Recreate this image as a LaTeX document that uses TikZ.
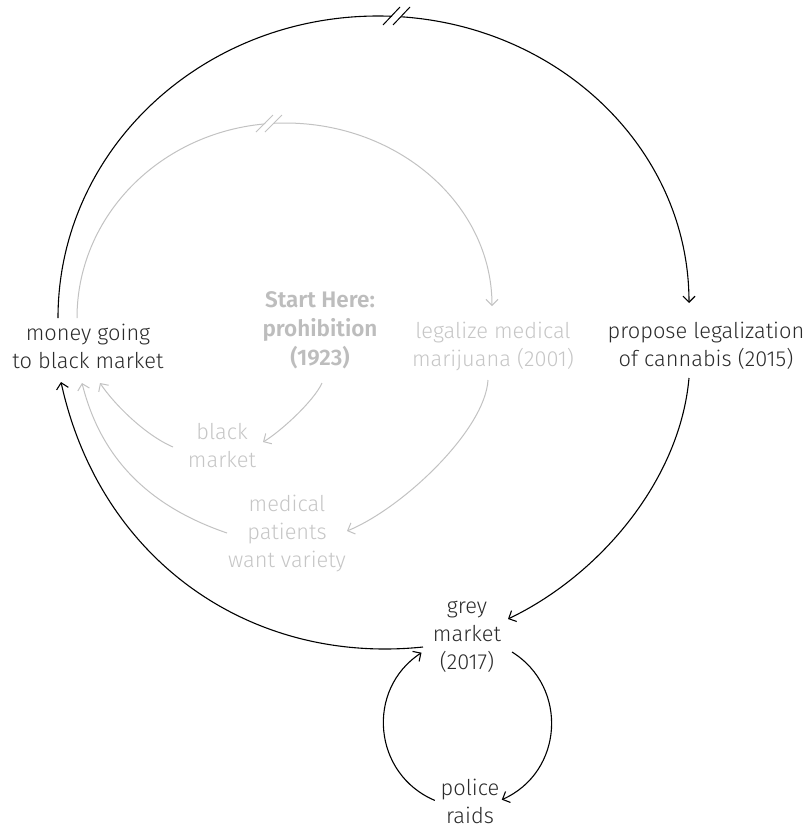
\documentclass[tikz,border=0pt]{standalone}
\usepackage{fontspec}
\setmainfont{Fira Sans}[UprightFont=* Light, BoldFont=* SemiBold]
\usetikzlibrary{arrows.meta}
\definecolor{inktext}{HTML}{2B2B2B}
\definecolor{fadetext}{HTML}{C6C6C6}
\definecolor{fadebold}{HTML}{BDBDBD}
\definecolor{fadeline}{HTML}{C2C2C2}
\tikzset{
  lbl/.style={align=center, inner sep=0pt, font=\fontsize{21.8}{28}\selectfont},
  dark/.style={lbl, text=inktext},
  faded/.style={lbl, text=fadetext},
  fadedbold/.style={lbl, text=fadebold, font=\fontsize{22.5}{29}\selectfont\bfseries},
  tip/.style={-{Straight Barb[length=6pt,width=12pt]}},
  mainlink/.style={tip, draw=black, line width=1.1pt},
  sidelink/.style={tip, draw=fadeline, line width=1pt},
  gapmark/.style={fill=white, draw=none},
}
\begin{document}
\begin{tikzpicture}[x=1pt, y=-1pt]
\useasboundingbox (0,0) rectangle (808,828);

% labels
\node[dark]      (money)   at (88,346)  {money going\\to black market};
\node[fadedbold] (start)   at (320,330) {Start Here:\\prohibition\\(1923)};
\node[faded]     (legal)   at (493,346) {legalize medical\\marijuana (2001)};
\node[dark]      (propose) at (706,346) {propose legalization\\of cannabis (2015)};
\node[faded]     (black)   at (222,446) {black\\market};
\node[faded]     (medical) at (287,534) {medical\\patients\\want variety};
\node[dark]      (grey)    at (467,637) {grey\\market\\(2017)};
\node[dark]      (police)  at (470,801) {police\\raids};

% outer loop: money going to black market -> proposal
\draw[mainlink] ([shift={(-30,-28)}]money.center)
  .. controls (58,151) and (201,16) .. (378,16)
  .. controls (550,16) and (689,144) .. ([shift={(-17,-43)}]propose.center);
\fill[gapmark] (384,25) -- (401,7) -- (410,7) -- (393,25) -- cycle;
\draw[black, line width=1pt] (383,25) -- (400,7) (393,25) -- (410,7);

% inner loop: money going to black market -> medical legalization
\draw[sidelink] ([shift={(-11,-28)}]money.center)
  .. controls (77,210) and (170,123) .. (285,123)
  .. controls (399,123) and (492,205) .. ([shift={(-1,-40)}]legal.center);
\fill[gapmark] (257,132) -- (274,115) -- (282,115) -- (265,132) -- cycle;
\draw[fadeline, line width=1pt] (256,132) -- (273,115) (265,132) -- (282,115);

% faded chain
\draw[sidelink] ([shift={(2,53)}]start.center)
  .. controls (314,401) and (280,432) .. ([shift={(41,-4)}]black.center);
\draw[sidelink] ([shift={(-49,1)}]black.center)
  .. controls (145,435) and (114,404) .. ([shift={(12,37)}]money.center);
\draw[sidelink] ([shift={(-5,34)}]legal.center)
  .. controls (485,430) and (403,508) .. ([shift={(60,-3)}]medical.center);
\draw[sidelink] ([shift={(-60,-1)}]medical.center)
  .. controls (145,505) and (100,455) .. ([shift={(-6,37)}]money.center);

% dark chain
\draw[mainlink] ([shift={(-17,32)}]propose.center)
  .. controls (680,480) and (600,575) .. ([shift={(41,-18)}]grey.center);
\draw[mainlink] ([shift={(-44,10)}]grey.center)
  .. controls (250,665) and (100,560) .. ([shift={(-27,36)}]money.center);

% grey market <-> police raids
\draw[mainlink] ([shift={(45,15)}]grey.center)
  .. controls (569,687.5) and (563.2,772.3) .. ([shift={(31.8,-1.3)}]police.center);
\draw[mainlink] ([shift={(-35.2,-0.6)}]police.center)
  .. controls (372.9,774.3) and (365.3,689.5) .. ([shift={(-45.5,15.7)}]grey.center);
\end{tikzpicture}
\end{document}
